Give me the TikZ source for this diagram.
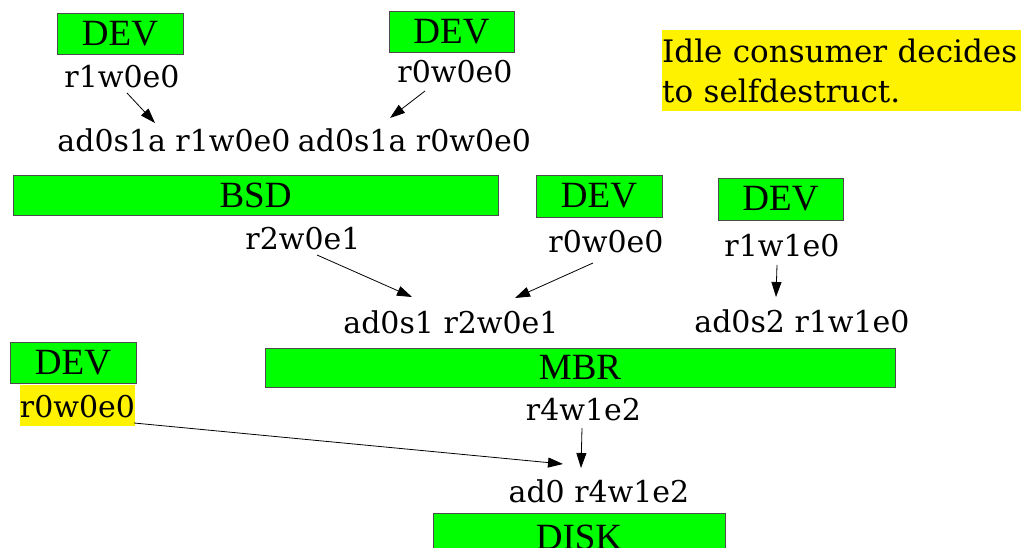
\documentclass[tikz,border=0pt]{standalone}
\usepackage{fontspec}
\setmainfont{Liberation Serif}
\newfontfamily\labelfont{DejaVu Serif}
\usetikzlibrary{arrows.meta,calc}

\tikzset{
  box/.style={draw=black!70, line width=0.8pt, fill=green, inner sep=0pt,
              font=\fontsize{37}{37}\selectfont},
  lab/.style={inner sep=0pt, anchor=base, font=\labelfont\fontsize{30}{30}\selectfont},
  arr/.style={line width=0.8pt, -{Triangle[length=15pt,width=10pt]}},
  hl/.style={fill=yellow}
}

\begin{document}
\begin{tikzpicture}[x=1pt,y=-1pt]
  \fill[white] (0,0) rectangle (1028,548);
  \path[use as bounding box] (0,0) rectangle (1028,548);
  \clip (0,0) rectangle (1028,548);

  % device / partition boxes
  \node[box, minimum width=126pt, minimum height=41pt] (dev1) at (120,33.5) {DEV};
  \node[box, minimum width=125pt, minimum height=41pt] (dev2) at (451.5,31.5) {DEV};
  \node[box, minimum width=485pt, minimum height=40pt] (bsd) at (255.5,195) {BSD};
  \node[box, minimum width=126pt, minimum height=42pt] (dev3) at (599,196) {DEV};
  \node[box, minimum width=125pt, minimum height=42pt] (dev4) at (780.5,199) {DEV};
  \node[box, minimum width=126pt, minimum height=41pt] (dev5) at (73,362.5) {DEV};
  \node[box, minimum width=630pt, minimum height=39pt] (mbr) at (580,367.5) {MBR};
  \node[box, minimum width=292pt, minimum height=48pt] (disk) at (579,537) {DISK};

  % access counts
  \node[lab] (l1) at (122,88) {r1w0e0};
  \node[lab] (l2) at (455,83) {r0w0e0};
  \node[lab] (a1) at (174,152) {ad0s1a r1w0e0};
  \node[lab] (a2) at (414.5,152) {ad0s1a r0w0e0};
  \node[lab] (l3) at (303,250) {r2w0e1};
  \node[lab] (l4) at (606,252) {r0w0e0};
  \node[lab] (l5) at (782,257) {r1w1e0};
  \node[lab] (a3) at (451,333) {ad0s1 r2w0e1};
  \node[lab] (a4) at (802,332) {ad0s2 r1w1e0};
  \node[lab, hl, text height=32pt, text depth=9pt] (l6) at (77.5,417) {r0w0e0};
  \node[lab] (l7) at (583.5,420) {r4w1e2};
  \node[lab] (a5) at (599,502) {ad0 r4w1e2};

  % note
  \node[hl, anchor=north west, inner xsep=0pt, inner ysep=8.5pt,
        text width=359pt, align=left,
        font=\labelfont\fontsize{31}{40}\selectfont] (note) at (662,30)
        {Idle consumer decides\\to selfdestruct.};

  % edges
  \draw[arr] ($(l1.base)+(5,5)$) -- ($(a1.base)+(-19,-29)$);
  \draw[arr] ($(l2.base)+(-30,8)$) -- ($(a2.base)+(-24.5,-34)$);
  \draw[arr] ($(l3.base)+(14,5)$) -- ($(a3.base)+(-39,-36)$);
  \draw[arr] ($(l4.base)+(-13,11)$) -- ($(a3.base)+(64,-35)$);
  \draw[arr] ($(l5.base)+(-5,8)$) -- ($(a4.base)+(-26,-35)$);
  \draw[arr] ($(l6.base)+(56.5,6)$) -- ($(a5.base)+(-36,-38)$);
  \draw[arr] ($(l7.base)+(-1.5,8)$) -- ($(a5.base)+(-18,-34)$);
\end{tikzpicture}
\end{document}
